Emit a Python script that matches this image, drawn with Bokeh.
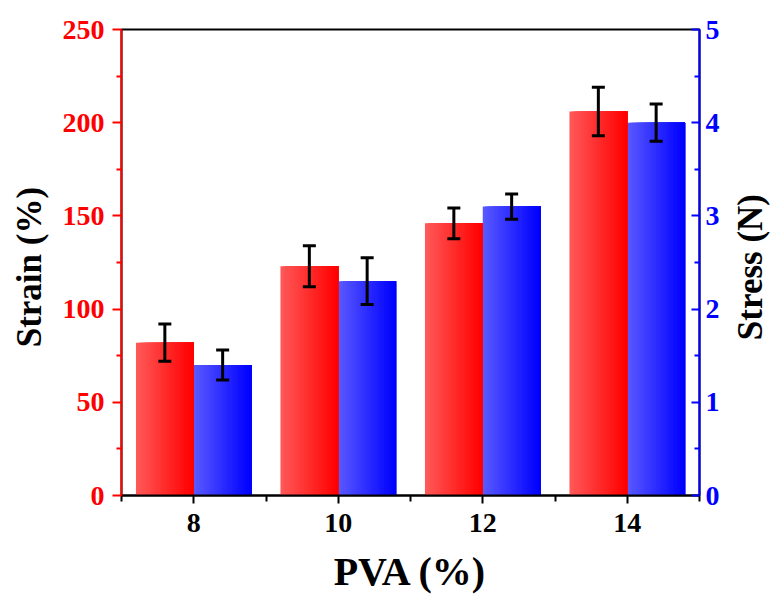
import math
from bokeh.plotting import figure
from bokeh.layouts import row
from bokeh.models import (ColumnDataSource, Range1d, LinearAxis, FixedTicker,
                          Whisker, TeeHead)
from bokeh.core.properties import value
from bokeh.transform import dodge
from bokeh.embed import file_html
from bokeh.resources import INLINE

# ---- data ----
pva = [8, 10, 12, 14]
strain = [82, 123, 146, 206]
strain_err = [10, 11, 8.3, 13]
stress = [1.4, 2.3, 3.1, 4.0]
stress_err = [0.16, 0.25, 0.135, 0.2]
x_ticks = [8, 10, 12, 14]
x_minor = [7, 9, 11, 13, 15]
strain_ticks = [0, 50, 100, 150, 200, 250]
strain_minor = [25, 75, 125, 175, 225]
stress_ticks = [0, 1, 2, 3, 4, 5]
stress_minor = [0.5, 1.5, 2.5, 3.5, 4.5]
strain_title = ["Strain (%)"]
stress_title = ["Stress (N)"]

src = ColumnDataSource(dict(
    pva=pva, strain=strain, stress=stress,
    s_up=[v + e for v, e in zip(strain, strain_err)],
    s_lo=[v - e for v, e in zip(strain, strain_err)],
    t_up=[v + e for v, e in zip(stress, stress_err)],
    t_lo=[v - e for v, e in zip(stress, stress_err)],
))

FONT = "Liberation Serif"
RED = "#ff0000"
BLUE = "#0000ff"
TICK_FS = "28px"
XLABEL_FS = "40px"
YLABEL_FS = "35px"
FW, FH = 578, 466
TOP, BOTTOM = 29, 100
H = TOP + FH + BOTTOM
SIDE_W = 50
TITLE_Y = H - 304          # vertical anchor of side titles (from bottom)

p = figure(frame_width=FW, frame_height=FH, output_backend="svg",
           toolbar_location=None, x_range=Range1d(7, 15), y_range=Range1d(0, 250),
           min_border_left=121 - SIDE_W, min_border_right=28, min_border_top=TOP,
           min_border_bottom=BOTTOM)
p.extra_y_ranges = {"stress": Range1d(0, 5)}
p.grid.visible = False
p.outline_line_color = "black"
p.outline_line_width = 2

# gradient bars: overlapping strips, each running to the bar's right edge
N = 24
bw = 0.8
sw = bw / N
for i in range(N):
    f = i / (N - 1)
    g = int(round(88 * (1 - f)))
    rc = "#%02x%02x%02x" % (255, g, g)
    bc = "#%02x%02x%02x" % (g, g, 255)
    left = i * sw
    width = bw - left
    p.vbar(x=dodge("pva", -bw + left + width / 2), top="strain", width=width, bottom=0,
           source=src, fill_color=rc, line_color=None)
    p.vbar(x=dodge("pva", left + width / 2), top="stress", width=width, bottom=0,
           source=src, fill_color=bc, line_color=None, y_range_name="stress")

def head():
    return TeeHead(size=13, line_width=3, line_color="black")

w1 = Whisker(base=dodge("pva", -0.4), upper="s_up", lower="s_lo", source=src,
             line_color="black", line_width=3, level="overlay",
             upper_head=head(), lower_head=head())
w2 = Whisker(base=dodge("pva", 0.4), upper="t_up", lower="t_lo", source=src,
             y_range_name="stress", level="overlay",
             line_color="black", line_width=3,
             upper_head=head(), lower_head=head())
p.add_layout(w1)
p.add_layout(w2)

def style_axis(ax, color, label_color):
    ax.axis_line_color = color
    ax.axis_line_width = 2
    ax.major_tick_line_color = color
    ax.minor_tick_line_color = color
    ax.major_tick_line_width = 2
    ax.minor_tick_line_width = 2
    ax.major_label_text_color = label_color
    ax.major_label_text_font = FONT
    ax.major_label_text_font_style = "bold"
    ax.major_label_text_font_size = TICK_FS
    ax.axis_label_text_color = "black"
    ax.axis_label_text_font = FONT
    ax.axis_label_text_font_style = "bold"
    ax.axis_label_text_font_size = XLABEL_FS

# x axis
xa = p.xaxis[0]
xa.ticker = FixedTicker(ticks=x_ticks, minor_ticks=x_minor)
xa.axis_label = "PVA (%)"
style_axis(xa, "black", "black")
xa.major_tick_in = 0
xa.major_tick_out = 8
xa.minor_tick_in = 0
xa.minor_tick_out = 6
xa.major_label_standoff = 10
xa.axis_label_standoff = 14

# left axis
ya = p.yaxis[0]
ya.ticker = FixedTicker(ticks=strain_ticks, minor_ticks=strain_minor)
style_axis(ya, RED, RED)
ya.major_tick_in = 0
ya.major_tick_out = 9
ya.minor_tick_in = 0
ya.minor_tick_out = 5
ya.major_label_standoff = 8

# right axis
ra = LinearAxis(y_range_name="stress",
                ticker=FixedTicker(ticks=stress_ticks, minor_ticks=stress_minor))
style_axis(ra, BLUE, BLUE)
ra.major_tick_in = 8
ra.major_tick_out = 0
ra.minor_tick_in = 5
ra.minor_tick_out = 0
ra.major_label_standoff = 6
p.add_layout(ra, "right")

# narrow side figures holding the y-axis titles (both read bottom-to-top)
def side_title(text, cx):
    s = figure(width=SIDE_W, height=H, output_backend="svg", toolbar_location=None,
               x_range=Range1d(0, SIDE_W), y_range=Range1d(0, H), min_border=0)
    s.axis.visible = False
    s.grid.visible = False
    s.outline_line_color = None
    s.text(x=[cx], y=[TITLE_Y], text=text, angle=math.pi / 2,
           text_align="center", text_baseline="middle",
           text_font=value(FONT), text_font_style="bold",
           text_font_size=YLABEL_FS, text_color="black")
    return s

p0 = side_title(strain_title, 29)
p2 = side_title(stress_title, 23)

layout = row(p0, p, p2, spacing=0)
open("out.html", "w").write(file_html(layout, INLINE))
